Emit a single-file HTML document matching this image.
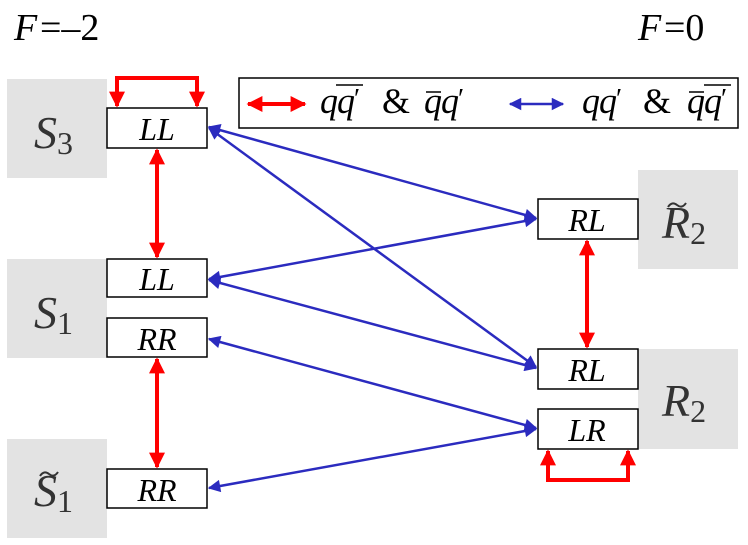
<!DOCTYPE html>
<html><head><meta charset="utf-8"><style>
html,body{margin:0;padding:0;background:#fff;}
svg{display:block;}
text{font-family:"Liberation Serif",serif;}
</style></head><body>
<svg width="748" height="545" viewBox="0 0 748 545" xmlns="http://www.w3.org/2000/svg">
<defs>
<marker id="rb" viewBox="0 0 10 10" refX="9" refY="5" markerWidth="4" markerHeight="4" orient="auto-start-reverse"><path d="M0,0 L10,5 L0,10 z" fill="#f00"/></marker>
<marker id="bb" viewBox="0 0 10 10" refX="9" refY="5" markerWidth="6" markerHeight="5" orient="auto-start-reverse"><path d="M0,0 L10,5 L0,10 z" fill="#2b2bbf"/></marker>
</defs>
<text x="14" y="40" font-size="38" font-style="italic">F</text><text x="40" y="40" font-size="38">=–2</text>
<text x="638" y="40" font-size="38" font-style="italic">F</text><text x="664" y="40" font-size="38">=0</text>

<g fill="#e3e3e3">
<rect x="7" y="79" width="100" height="99"/>
<rect x="7" y="259" width="100" height="99"/>
<rect x="7" y="439" width="100" height="99"/>
<rect x="638" y="170" width="100" height="99"/>
<rect x="638" y="349" width="100" height="100"/>
</g>
<g font-size="46" fill="#333" font-style="italic">
<text x="34" y="148">S<tspan font-style="normal" font-size="32" dy="6">3</tspan></text>
<text x="34" y="328">S<tspan font-style="normal" font-size="32" dy="6">1</tspan></text>
<text x="34" y="506">S<tspan font-style="normal" font-size="32" dy="6">1</tspan></text>
<text x="662" y="238">R<tspan font-style="normal" font-size="32" dy="6">2</tspan></text>
<text x="662" y="416">R<tspan font-style="normal" font-size="32" dy="6">2</tspan></text>
</g>
<g fill="none" stroke="#333" stroke-width="2">
<path d="M40,476 q4,-6 9,-2 t9,-2"/>
<path d="M668,207 q4,-6 9,-2 t9,-2"/>
</g>

<g fill="#fff" stroke="#000" stroke-width="1.5">
<rect x="107" y="108" width="100" height="40"/>
<rect x="107" y="259" width="100" height="38"/>
<rect x="107" y="318" width="100" height="39"/>
<rect x="107" y="469" width="100" height="39"/>
<rect x="538" y="199" width="100" height="40"/>
<rect x="538" y="349" width="100" height="40"/>
<rect x="538" y="409" width="100" height="40"/>
<rect x="239" y="78" width="499" height="50"/>
</g>
<g font-size="32" font-style="italic" text-anchor="middle">
<text x="157" y="140">LL</text>
<text x="157" y="290">LL</text>
<text x="157" y="350">RR</text>
<text x="157" y="501">RR</text>
<text x="587" y="231">RL</text>
<text x="587" y="381">RL</text>
<text x="587" y="441">LR</text>
</g>

<g stroke="#2b2bbf" stroke-width="2.5" fill="none" marker-start="url(#bb)" marker-end="url(#bb)">
<line x1="209" y1="127" x2="536" y2="218"/>
<line x1="209" y1="128" x2="536" y2="367"/>
<line x1="536" y1="219" x2="209" y2="279"/>
<line x1="209" y1="280" x2="536" y2="368"/>
<line x1="209" y1="339" x2="536" y2="428"/>
<line x1="536" y1="429" x2="209" y2="488"/>
<line x1="510" y1="104" x2="563" y2="104"/>
</g>
<g stroke="#f00" stroke-width="4" fill="none">
<line x1="157" y1="150" x2="157" y2="257" marker-start="url(#rb)" marker-end="url(#rb)"/>
<line x1="157" y1="359" x2="157" y2="467" marker-start="url(#rb)" marker-end="url(#rb)"/>
<line x1="587" y1="241" x2="587" y2="347" marker-start="url(#rb)" marker-end="url(#rb)"/>
<polyline points="117,106 117,78 197,78 197,106" marker-start="url(#rb)" marker-end="url(#rb)"/>
<polyline points="548,451 548,480 628,480 628,451" marker-start="url(#rb)" marker-end="url(#rb)"/>
<line x1="248" y1="104" x2="305" y2="104" marker-start="url(#rb)" marker-end="url(#rb)"/>
</g>

<g font-size="36">
<text x="320" y="113" font-style="italic">q</text>
<text x="337" y="113" font-style="italic">q</text><text x="354" y="108" font-size="28">′</text>
<line x1="336" y1="85" x2="363" y2="85" stroke="#000" stroke-width="1.5"/>
<text x="382" y="113">&amp;</text>
<text x="424" y="113" font-style="italic">q</text>
<line x1="426" y1="92" x2="441" y2="92" stroke="#000" stroke-width="1.5"/>
<text x="441" y="113" font-style="italic">q</text><text x="458" y="108" font-size="28">′</text>
<text x="582" y="113" font-style="italic">q</text>
<text x="599" y="113" font-style="italic">q</text><text x="616" y="108" font-size="28">′</text>
<text x="643" y="113">&amp;</text>
<text x="687" y="113" font-style="italic">q</text>
<line x1="689" y1="92" x2="704" y2="92" stroke="#000" stroke-width="1.5"/>
<text x="704" y="113" font-style="italic">q</text><text x="721" y="108" font-size="28">′</text>
<line x1="704" y1="85" x2="731" y2="85" stroke="#000" stroke-width="1.5"/>
</g>
</svg>
</body></html>
